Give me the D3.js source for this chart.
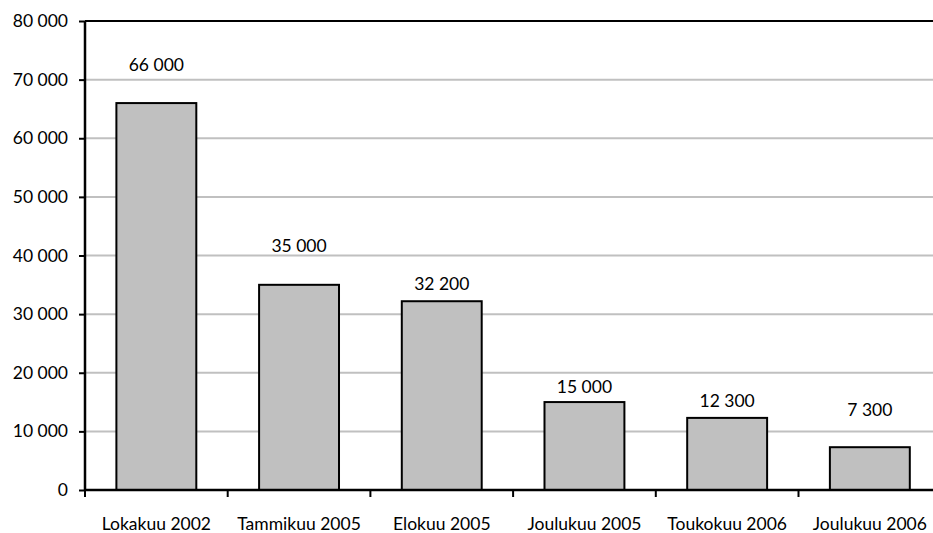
<!DOCTYPE html>
<html>
<head>
<meta charset="utf-8">
<script src="https://cdn.jsdelivr.net/npm/d3@7"></script>
<style>
  body { margin: 0; background: #fff; overflow: hidden; }
  text { font-family: Lato, "Open Sans", sans-serif; fill: #000; }
</style>
</head>
<body>
<svg id="chart" width="933" height="533"></svg>
<script>
// data
var categories = ["Lokakuu 2002", "Tammikuu 2005", "Elokuu 2005", "Joulukuu 2005", "Toukokuu 2006", "Joulukuu 2006"];
var values = [66000, 35000, 32200, 15000, 12300, 7300];
var yTicks = [0, 10000, 20000, 30000, 40000, 50000, 60000, 70000, 80000];

var svg = d3.select("#chart");
var plotLeft = 85, plotTop = 21, plotBottom = 490, bandW = 142.7;
var plotRight = plotLeft + bandW * categories.length;
var fontSize = 17.5;
// the original places some labels high and some just above the bar
var labelLift = [32, 33, 11, 9, 11, 31];

var fmt = function(v) {
  return d3.format(",")(v).replace(/,/g, " ");
};

var x = d3.scaleBand().domain(categories).range([plotLeft, plotRight]).paddingInner(0.44).paddingOuter(0.22);
var y = d3.scaleLinear().domain([0, 80000]).range([plotBottom, plotTop]);

// gridlines
svg.append("g").selectAll("line").data(yTicks.slice(1, -1)).enter().append("line")
  .attr("x1", plotLeft).attr("x2", 933)
  .attr("y1", function(d) { return y(d); }).attr("y2", function(d) { return y(d); })
  .attr("stroke", "#c0c0c0").attr("stroke-width", 2);

// top border
svg.append("line").attr("x1", plotLeft).attr("x2", 933).attr("y1", y(80000)).attr("y2", y(80000))
  .attr("stroke", "#000").attr("stroke-width", 2);

// bars
svg.append("g").selectAll("rect").data(values).enter().append("rect")
  .attr("x", function(d, i) { return x(categories[i]); })
  .attr("width", x.bandwidth())
  .attr("y", function(d) { return y(d); })
  .attr("height", function(d) { return y(0) - y(d); })
  .attr("fill", "#c0c0c0").attr("stroke", "#000").attr("stroke-width", 2);

// value labels
svg.append("g").selectAll("text").data(values).enter().append("text")
  .attr("x", function(d, i) { return x(categories[i]) + x.bandwidth() / 2; })
  .attr("y", function(d, i) { return y(d) - labelLift[i]; })
  .attr("text-anchor", "middle").attr("font-size", fontSize)
  .text(fmt);

// y axis
var yAxis = d3.axisLeft(y).tickValues(yTicks).tickSize(6).tickPadding(11).tickFormat(fmt);
var gy = svg.append("g").attr("transform", "translate(" + plotLeft + ",0)").call(yAxis);
gy.select(".domain").attr("stroke", "#000").attr("stroke-width", 2.5).attr("d", "M0," + plotTop + "V" + plotBottom);
gy.selectAll(".tick line").attr("stroke-width", 2);
gy.selectAll(".tick text").attr("font-size", fontSize).attr("font-family", "Lato, sans-serif").attr("fill", "#000");

// x axis
svg.append("line").attr("x1", plotLeft).attr("x2", 933).attr("y1", plotBottom).attr("y2", plotBottom)
  .attr("stroke", "#000").attr("stroke-width", 2.5);
var bounds = d3.range(categories.length + 1).map(function(i) { return plotLeft + i * bandW; });
svg.append("g").selectAll("line").data(bounds).enter().append("line")
  .attr("x1", function(d) { return d; }).attr("x2", function(d) { return d; })
  .attr("y1", plotBottom).attr("y2", plotBottom + 7)
  .attr("stroke", "#000").attr("stroke-width", 2);
svg.append("g").selectAll("text").data(categories).enter().append("text")
  .attr("x", function(d) { return x(d) + x.bandwidth() / 2; })
  .attr("y", 530)
  .attr("text-anchor", "middle").attr("font-size", fontSize)
  .text(function(d) { return d; });
</script>
</body>
</html>
